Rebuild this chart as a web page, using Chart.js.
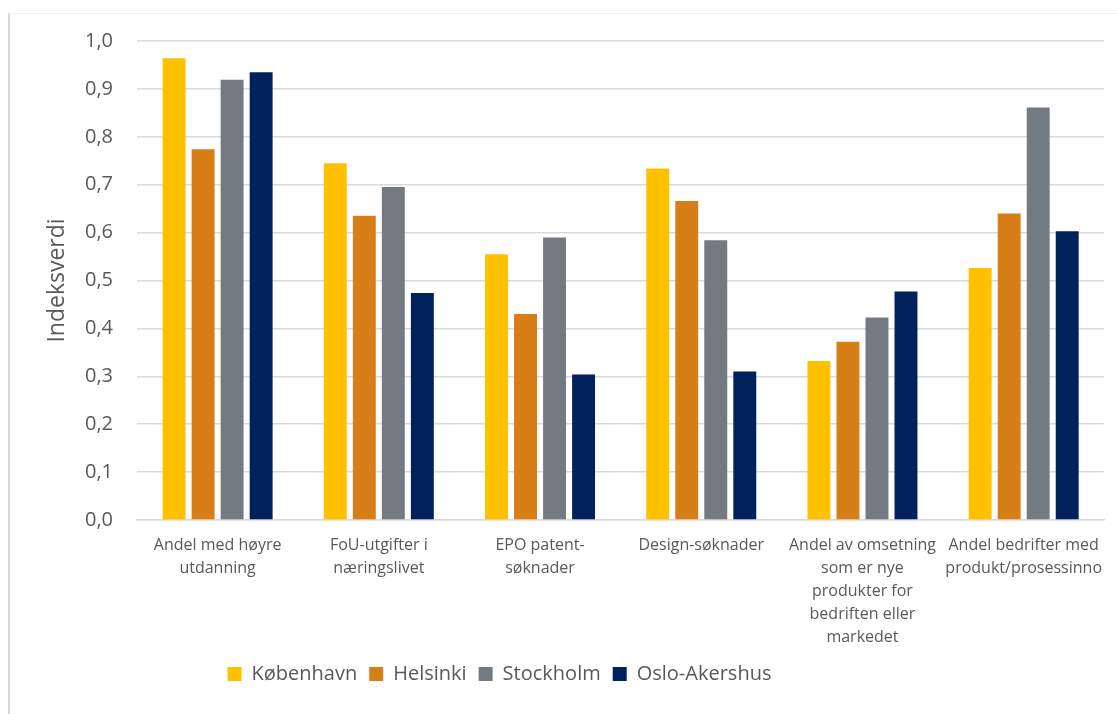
<!DOCTYPE html>
<html>
<head>
<meta charset="utf-8">
<script src="https://cdn.jsdelivr.net/npm/chart.js@4"></script>
<style>
  html, body { margin: 0; padding: 0; background: #fff; }
  #wrap { position: relative; width: 1117px; height: 714px; }
  #frame { position: absolute; left: 8px; top: 13px; right: -10px; bottom: -10px;
           border-left: 2px solid #d9d9d9; border-top: 1px solid #f0f0f0; }
  canvas { position: absolute; left: 0; top: 0; }
</style>
</head>
<body>
<div id="wrap">
  <div id="frame"></div>
  <canvas id="barChart" width="1117" height="714"></canvas>
</div>
<script>
// categories (multi-line labels as in the original)
const categories = [
  ["Andel med høyre", "utdanning"],
  ["FoU-utgifter i", "næringslivet"],
  ["EPO patent-", "søknader"],
  "Design-søknader",
  ["Andel av omsetning", "som er nye", "produkter for", "bedriften eller", "markedet"],
  ["Andel bedrifter med", "produkt/prosessinno"]
];

const kobenhavn = [0.964, 0.745, 0.555, 0.734, 0.332, 0.526];
const helsinki  = [0.774, 0.635, 0.430, 0.666, 0.372, 0.640];
const stockholm = [0.919, 0.695, 0.590, 0.584, 0.423, 0.861];
const osloAkershus = [0.935, 0.474, 0.304, 0.310, 0.477, 0.603];

const yTickLabels = ["0,0", "0,1", "0,2", "0,3", "0,4", "0,5", "0,6", "0,7", "0,8", "0,9", "1,0"];

const textColor = "#595959";
const gridColor = "#d9d9d9";
const fontFamily = "'Open Sans'";

// move the legend to where Excel put it
const legendShift = {
    id: 'legendShift',
    afterLayout(chart) {
        const l = chart.legend;
        l.left -= 71;
        l.right -= 71;
    }
};

var ctx = document.getElementById('barChart').getContext('2d');
var barChart = new Chart(ctx, {
    type: 'bar',
    data: {
        labels: categories,
        datasets: [{
            label: 'København',
            backgroundColor: "#FFC000",
            data: kobenhavn,
        },{
            label: 'Helsinki',
            backgroundColor: "#D77E17",
            data: helsinki,
        },{
            label: 'Stockholm',
            backgroundColor: "#737A81",
            data: stockholm,
        },{
            label: 'Oslo-Akershus',
            backgroundColor: "#00215C",
            data: osloAkershus,
        }]
    },
    options: {
        responsive: false,
        animation: false,
        categoryPercentage: 0.72,
        barPercentage: 0.79,
        layout: {
            padding: { left: 36, top: 41, right: 12, bottom: 20 }
        },
        scales: {
            x: {
                ticks: {
                    color: textColor,
                    maxRotation: 0,
                    autoSkip: false,
                    padding: 14,
                    font: { size: 16, family: fontFamily, lineHeight: 1.44 },
                },
                grid: { display: false, drawTicks: false },
                border: { display: true, color: gridColor, width: 1.5 },
                afterFit: (scale) => { scale.height = 132; }
            },
            y: {
                min: 0,
                max: 1,
                ticks: {
                    stepSize: 0.1,
                    padding: 24,
                    color: textColor,
                    font: { size: 20, family: fontFamily },
                    callback: (v, i) => yTickLabels[i]
                },
                grid: { color: gridColor, lineWidth: 1.5, drawTicks: false },
                border: { display: false },
                title: {
                    display: true,
                    text: 'Indeksverdi',
                    color: textColor,
                    font: { size: 23, family: fontFamily },
                    padding: { top: 8, bottom: 0 }
                },
                afterFit: (scale) => { scale.width = 101; }
            }
        },
        plugins: {
            tooltip: { enabled: false },
            legend: {
                position: 'bottom',
                labels: {
                    color: textColor,
                    boxWidth: 14,
                    boxHeight: 14,
                    padding: 12,
                    font: { size: 20, family: fontFamily }
                }
            }
        }
    },
    plugins: [legendShift]
});
</script>
</body>
</html>
